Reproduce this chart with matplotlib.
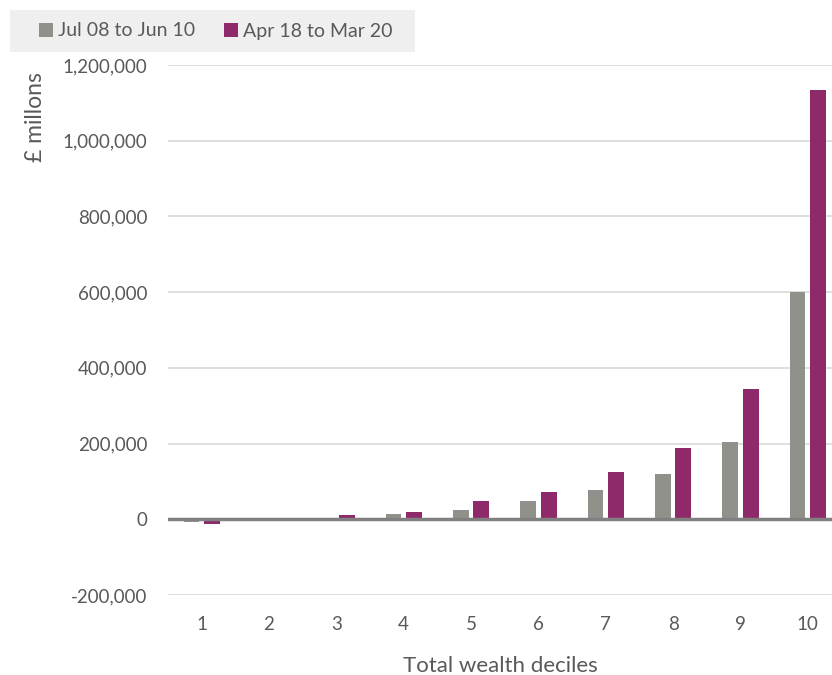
import numpy as np
import matplotlib
matplotlib.use('Agg')
import matplotlib.pyplot as plt
from matplotlib.patches import Rectangle, Patch
from matplotlib.ticker import FuncFormatter

# data (£ millions)
deciles = np.arange(1, 11)
jul08_jun10 = [-7000, 500, 1500, 13000, 25500, 48000, 78500, 119000, 204000, 601000]
apr18_mar20 = [-12000, 1000, 10500, 20000, 48500, 72000, 125000, 187000, 343000, 1134000]
series_names = ['Jul 08 to Jun 10', 'Apr 18 to Mar 20']
yticks = np.arange(-200000, 1200001, 200000)

grey = '#91918c'
purple = '#8e2a69'
txt = '#595959'

plt.rcParams['font.family'] = ['Lato', 'DejaVu Sans']

fig = plt.figure(figsize=(8.32, 6.75), dpi=100)
ax = fig.add_axes([168/832, 80/675, 1 - 168/832, 530/675])

w = 0.235
off = 0.152
ax.bar(deciles - off, jul08_jun10, width=w, color=grey, zorder=3)
ax.bar(deciles + off, apr18_mar20, width=w, color=purple, zorder=3)

ax.set_xlim(0.5, 10.36)
ax.set_ylim(-200000, 1200000)
ax.set_yticks(yticks)
ax.yaxis.set_major_formatter(FuncFormatter(lambda v, p: f'{int(v):,}'))
ax.set_xticks(deciles)
ax.grid(axis='y', color='#d9d9d9', linewidth=1.2, zorder=0)
ax.axhline(0, color='#808080', linewidth=2.5, zorder=4)
for s in ax.spines.values():
    s.set_visible(False)
ax.tick_params(axis='both', length=0, colors=txt, labelsize=13.5)
ax.tick_params(axis='y', pad=15)
ax.tick_params(axis='x', pad=15)

ax.set_xlabel('Total wealth deciles', color=txt, fontsize=16, labelpad=17)
fig.text(36/832, 1 - 117/675, '£ millons', rotation=90, color=txt,
         fontsize=16.5, ha='center', va='center')

# legend strip at top
fig.patches.append(Rectangle((10/832, 1 - 52/675), 405/832, 42/675,
                             transform=fig.transFigure, facecolor='#efefef',
                             edgecolor='none', zorder=0))
handles = [Patch(facecolor=grey), Patch(facecolor=purple)]
fig.legend(handles, series_names, loc='center left', bbox_to_anchor=(39/832, 1 - 31/675),
           ncol=2, frameon=False, fontsize=14, handlelength=0.72, handleheight=0.72,
           handletextpad=0.25, columnspacing=1.5, labelcolor=txt,
           borderpad=0, borderaxespad=0)

fig.savefig('out.png', dpi=100)
